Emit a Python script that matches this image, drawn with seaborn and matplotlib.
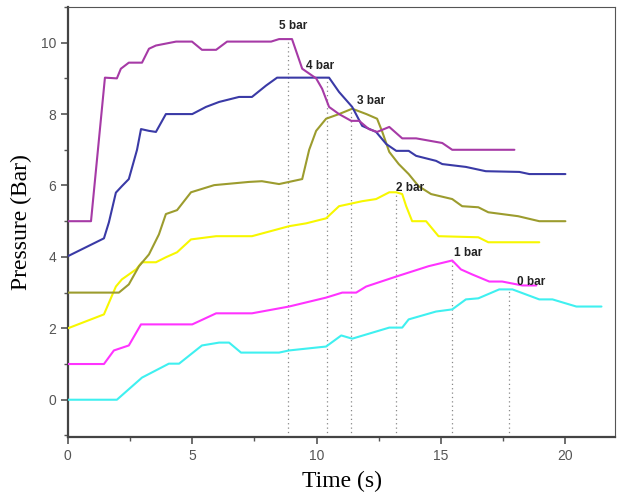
import matplotlib
matplotlib.use("Agg")
import matplotlib.pyplot as plt
import seaborn as sns
import pandas as pd
from matplotlib.ticker import MultipleLocator

# ---- data ----
t0 = [0, 1.97, 2.98, 4.06, 4.47, 5.39, 6.08, 6.48, 6.96, 8.49, 8.89, 10.38, 10.99, 11.43, 12.92, 13.44,
      13.7, 14.8, 15.45, 16.0, 16.5, 17.34, 17.87, 18.95, 19.48, 20.44, 21.45]
p0 = [0, 0, 0.62, 1.01, 1.01, 1.52, 1.60, 1.60, 1.32, 1.32, 1.38, 1.49, 1.80, 1.71, 2.02, 2.02,
      2.25, 2.47, 2.53, 2.81, 2.84, 3.09, 3.09, 2.81, 2.81, 2.61, 2.61]

t1 = [0, 1.45, 1.85, 2.45, 2.94, 5.0, 5.96, 7.4, 8.89, 10.38, 11.03, 11.59, 11.99, 13.2, 14.5, 15.45,
      15.8, 16.25, 16.94, 17.46, 18.27, 18.83]
p1 = [1.0, 1.0, 1.38, 1.52, 2.11, 2.11, 2.42, 2.42, 2.61, 2.86, 3.0, 3.0, 3.17, 3.45, 3.74, 3.9,
      3.65, 3.51, 3.31, 3.31, 3.2, 3.2]

t2 = [0, 1.45, 1.93, 2.17, 2.74, 2.98, 3.54, 3.94, 4.39, 4.95, 5.96, 7.4, 8.89, 9.58, 10.38, 10.9,
      11.3, 11.83, 12.39, 12.92, 13.2, 13.44, 13.6, 13.84, 14.4, 14.9, 16.5, 16.9, 18.95]
p2 = [2.0, 2.39, 3.17, 3.37, 3.65, 3.85, 3.85, 3.99, 4.13, 4.49, 4.58, 4.58, 4.86, 4.94, 5.08, 5.42,
      5.48, 5.56, 5.62, 5.81, 5.81, 5.76, 5.42, 5.0, 5.0, 4.58, 4.55, 4.41, 4.41]

t3 = [0, 2.05, 2.45, 2.86, 3.26, 3.66, 3.94, 4.39, 4.95, 5.88, 7.28, 7.8, 8.49, 9.42, 9.7, 9.98,
      10.38, 10.9, 11.43, 12.0, 12.43, 12.64, 12.92, 13.3, 13.7, 14.1, 14.6, 15.45, 15.85, 16.5,
      16.9, 18.1, 18.95, 20.0]
p3 = [3.0, 3.0, 3.23, 3.74, 4.07, 4.63, 5.2, 5.31, 5.81, 6.01, 6.1, 6.12, 6.04, 6.18, 7.0, 7.53,
      7.87, 8.0, 8.15, 8.0, 7.87, 7.5, 6.94, 6.6, 6.32, 5.98, 5.76, 5.62, 5.42, 5.39,
      5.25, 5.14, 5.0, 5.0]

t4 = [0, 1.45, 1.65, 1.93, 2.17, 2.45, 2.78, 2.94, 3.26, 3.54, 3.94, 5.0, 5.55, 6.08, 6.88, 7.4,
      7.97, 8.41, 10.5, 10.9, 11.43, 11.83, 12.39, 12.8, 13.2, 13.7, 14.0, 14.8, 15.05, 16.0,
      16.8, 18.15, 18.55, 20.0]
p4 = [4.02, 4.52, 4.97, 5.8, 5.98, 6.18, 7.0, 7.58, 7.53, 7.5, 8.0, 8.0, 8.2, 8.34, 8.48, 8.48,
      8.8, 9.02, 9.02, 8.62, 8.2, 7.67, 7.5, 7.16, 6.97, 6.97, 6.83, 6.69, 6.6, 6.52,
      6.4, 6.38, 6.32, 6.32]

t5 = [0, 0.93, 1.49, 1.97, 2.13, 2.45, 2.98, 3.26, 3.54, 4.35, 4.99, 5.39, 5.96, 6.40, 8.17, 8.49,
      9.01, 9.42, 9.98, 10.22, 10.5, 10.9, 11.39, 11.71, 12.1, 12.43, 12.92, 13.44, 14.0, 15.05,
      15.45, 17.95]
p5 = [5.0, 5.0, 9.02, 9.0, 9.27, 9.44, 9.44, 9.83, 9.92, 10.03, 10.03, 9.8, 9.8, 10.03, 10.03, 10.1,
      10.1, 9.27, 9.0, 8.71, 8.2, 8.0, 7.81, 7.81, 7.58, 7.5, 7.64, 7.32, 7.32, 7.19,
      7.0, 7.0]

series_names = ["0 bar", "1 bar", "2 bar", "3 bar", "4 bar", "5 bar"]
peak_time = [17.75, 15.45, 13.2, 11.4, 10.4, 8.85]
peak_pressure = [3.09, 3.9, 5.81, 8.15, 9.02, 10.1]
label_x = [18.07, 15.53, 13.2, 11.63, 9.58, 8.5]
label_y = [3.31, 4.12, 5.93, 8.37, 9.35, 10.48]

colors = ["#3ff0f0", "#ff33ff", "#f7f700", "#9c9c2e", "#3a3aa6", "#a63aa6"]

frames = []
for name, t, p in zip(series_names, [t0, t1, t2, t3, t4, t5], [p0, p1, p2, p3, p4, p5]):
    frames.append(pd.DataFrame({"Time": t, "Pressure": p, "series": name, "order": range(len(t))}))
df = pd.concat(frames, ignore_index=True)

sns.set_style("ticks")
plt.rcParams["font.family"] = ["Liberation Sans", "DejaVu Sans"]

fig = plt.figure(figsize=(6.17, 4.97), dpi=100)
ax = fig.add_axes([0.110, 0.121, 0.887, 0.865])

# dotted guide lines at each peak
for xp, yp in zip(peak_time, peak_pressure):
    ax.plot([xp, xp], [-1.04, yp], linestyle=(0, (1, 2.5)), color="#888888", linewidth=0.9, zorder=1)

sns.lineplot(data=df, x="Time", y="Pressure", hue="series", hue_order=series_names,
             palette=colors, sort=False, estimator=None, units="series", linewidth=1.5,
             legend=False, ax=ax, zorder=3)

for txt, lx, ly in zip(series_names, label_x, label_y):
    ax.text(lx, ly, txt, fontsize=8.5, fontweight="bold", color="#222222",
            ha="left", va="center", zorder=5)

ax.set_xlim(0, 22)
ax.set_ylim(-1.04, 11.0)
ax.xaxis.set_major_locator(MultipleLocator(5))
ax.xaxis.set_minor_locator(MultipleLocator(2.5))
ax.yaxis.set_major_locator(MultipleLocator(2))
ax.yaxis.set_minor_locator(MultipleLocator(1))

ax.tick_params(axis="both", which="major", direction="out", length=5, width=1.2,
               colors="#555555", labelsize=10, labelcolor="#555555")
ax.tick_params(axis="both", which="minor", direction="out", length=3, width=1.0, colors="#555555")

for side in ["left", "bottom"]:
    ax.spines[side].set_linewidth(1.6)
    ax.spines[side].set_color("#444444")
for side in ["top", "right"]:
    ax.spines[side].set_visible(True)
    ax.spines[side].set_linewidth(0.8)
    ax.spines[side].set_color("#555555")

ax.set_xlabel("Time (s)", fontsize=17, family=["Liberation Serif", "DejaVu Serif"], color="black", labelpad=6)
ax.set_ylabel("Pressure (Bar)", fontsize=17, family=["Liberation Serif", "DejaVu Serif"], color="black", labelpad=6)

fig.savefig("out.png", dpi=100)
